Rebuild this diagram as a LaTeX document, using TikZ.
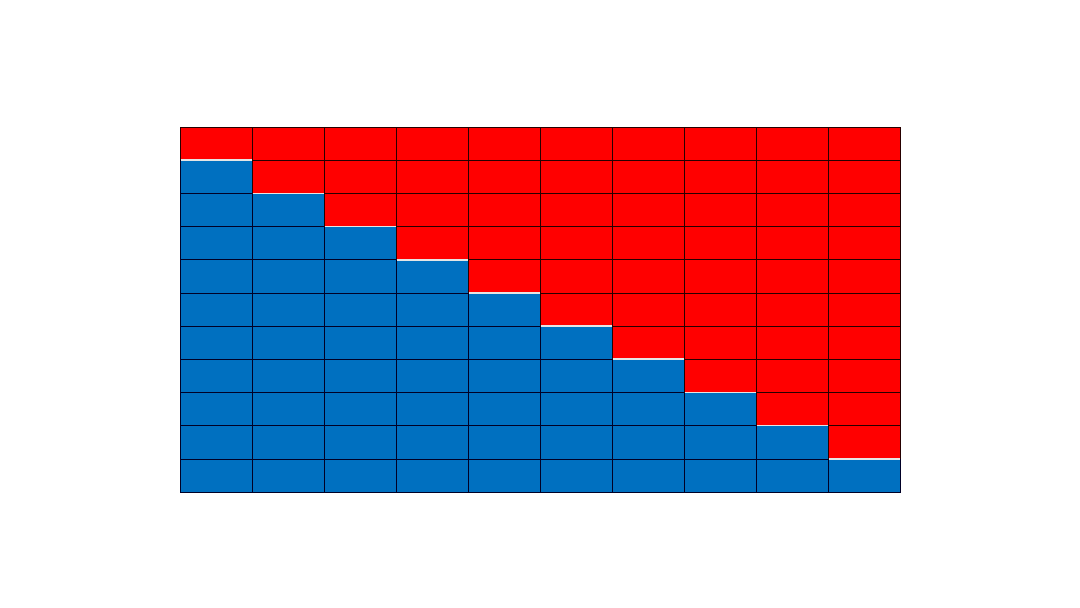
\documentclass[tikz,border=0pt]{standalone}
\definecolor{cred}{RGB}{255,0,0}
\definecolor{cblue}{RGB}{0,112,192}
\tikzset{
  redcell/.style={fill=cred,draw=black!85!red,line width=0.6pt},
  bluecell/.style={fill=cblue,draw=black!85!blue,line width=0.6pt},
  gapline/.style={draw=white!90!black,line width=1.6pt}
}
\begin{document}
\begin{tikzpicture}[x=1pt,y=-1pt]
\useasboundingbox (0,0) rectangle (1080,608);
\fill[white] (0,0) rectangle (1080,608);
\foreach \i in {0,...,9}{
  \foreach \j in {0,...,10}{
    \pgfmathsetmacro{\xa}{180+72*\i}
    \pgfmathsetmacro{\ya}{127+365/11*\j}
    \pgfmathsetmacro{\xb}{\xa+72}
    \pgfmathsetmacro{\yb}{\ya+365/11}
    \ifnum\j>\i
      \path[bluecell] (\xa,\ya) rectangle (\xb,\yb);
    \else
      \path[redcell] (\xa,\ya) rectangle (\xb,\yb);
    \fi
  }
}
\foreach \i in {0,...,9}{
  \pgfmathsetmacro{\xa}{180+72*\i+0.5}
  \pgfmathsetmacro{\xb}{180+72*\i+71.5}
  \pgfmathsetmacro{\yy}{127+365/11*(\i+1)}
  \path[gapline] (\xa,\yy) -- (\xb,\yy);
}
\end{tikzpicture}
\end{document}
